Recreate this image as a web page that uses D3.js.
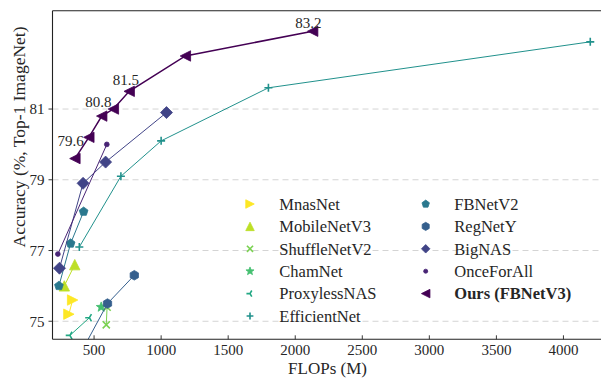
<!DOCTYPE html>
<html><head><meta charset="utf-8">
<script src="https://cdn.jsdelivr.net/npm/d3@7"></script>
<style>body{margin:0;background:#fff}svg{display:block}</style>
</head><body><svg id="c" width="601" height="379" font-family="'Liberation Serif', 'DejaVu Serif', 'Noto Serif', serif"></svg>
<script>
// ---------- data ----------
const seriesNames = ["MnasNet","MobileNetV3","ShuffleNetV2","ChamNet","ProxylessNAS","EfficientNet","FBNetV2","RegNetY","BigNAS","OnceForAll","Ours (FBNetV3)"];
const mnasnetFlops = [312, 340],            mnasnetAcc = [75.2, 75.6];
const mobilenetv3Flops = [278, 356],        mobilenetv3Acc = [76.0, 76.6];
const shufflenetv2Flops = [597, 591],       shufflenetv2Acc = [75.4, 74.9];
const chamnetFlops = [553],                 chamnetAcc = [75.4];
const proxylessFlops = [320, 465],          proxylessAcc = [74.6, 75.1];
const efficientnetFlops = [390, 700, 1000, 1800, 4200], efficientnetAcc = [77.1, 79.1, 80.1, 81.6, 82.9];
const fbnetv2Flops = [238, 325, 422],       fbnetv2Acc = [76.0, 77.2, 78.1];
const regnetyFlops = [400, 600, 800],       regnetyAcc = [74.1, 75.5, 76.3];
const bignasFlops = [242, 418, 586, 1040],  bignasAcc = [76.5, 78.9, 79.5, 80.9];
const ofaFlops = [230, 595],                ofaAcc = [76.9, 80.0];
const oursFlops = [357, 461, 557, 644, 762, 1181, 2130], oursAcc = [79.6, 80.2, 80.8, 81.0, 81.5, 82.5, 83.2];
const xTicks = [500, 1000, 1500, 2000, 2500, 3000, 3500, 4000];
const yTicks = [75, 77, 79, 81];
const annoText = ["79.6", "80.8", "81.5", "83.2"];
const annoFlops = [326, 532, 738, 2098];
const annoAcc = [80.10, 81.22, 81.83, 83.43];

const seriesFlops = [mnasnetFlops, mobilenetv3Flops, shufflenetv2Flops, chamnetFlops, proxylessFlops, efficientnetFlops, fbnetv2Flops, regnetyFlops, bignasFlops, ofaFlops, oursFlops];
const seriesAcc = [mnasnetAcc, mobilenetv3Acc, shufflenetv2Acc, chamnetAcc, proxylessAcc, efficientnetAcc, fbnetv2Acc, regnetyAcc, bignasAcc, ofaAcc, oursAcc];

// ---------- marker shapes ----------
function poly(ctx, pts){ ctx.moveTo(pts[0][0], pts[0][1]); for (let i=1;i<pts.length;i++) ctx.lineTo(pts[i][0], pts[i][1]); ctx.closePath(); }
function regular(n, r, rot){ const p=[]; for(let i=0;i<n;i++){const a=rot+i*2*Math.PI/n; p.push([r*Math.sin(a), -r*Math.cos(a)]);} return p; }
const shapes = {
  triRight: {draw(c,s){const r=Math.sqrt(s); poly(c,[[r,0],[-r,r],[-r,-r]]);}},
  triUp:    {draw(c,s){const r=Math.sqrt(s); poly(c,[[0,-r],[r,r],[-r,r]]);}},
  triLeft:  {draw(c,s){const r=Math.sqrt(s); poly(c,[[-r,0],[r,-r],[r,r]]);}},
  xcross:   {draw(c,s){const r=Math.sqrt(s); c.moveTo(-r,-r);c.lineTo(r,r);c.moveTo(-r,r);c.lineTo(r,-r);}},
  plus:     {draw(c,s){const r=Math.sqrt(s); c.moveTo(-r,0);c.lineTo(r,0);c.moveTo(0,-r);c.lineTo(0,r);}},
  tri3:     {draw(c,s){const r=Math.sqrt(s); c.moveTo(0,0);c.lineTo(-r,0);c.moveTo(0,0);c.lineTo(r*0.5,-r*0.866);c.moveTo(0,0);c.lineTo(r*0.5,r*0.866);}},
  star:     {draw(c,s){const r=Math.sqrt(s); const p=[]; for(let i=0;i<10;i++){const rr=i%2?r*0.42:r; const a=i*Math.PI/5; p.push([rr*Math.sin(a), -rr*Math.cos(a)]);} poly(c,p);}},
  pentagon: {draw(c,s){poly(c, regular(5, Math.sqrt(s), 0));}},
  hexagon:  {draw(c,s){poly(c, regular(6, Math.sqrt(s), 0));}},
  diamond:  {draw(c,s){const r=Math.sqrt(s); poly(c,[[0,-r],[r,0],[0,r],[-r,0]]);}},
  dot:      {draw(c,s){const r=Math.sqrt(s); c.moveTo(r,0); c.arc(0,0,r,0,2*Math.PI);}}
};
const style = [
  {shape:"triRight", r:5.2, fill:true,  lw:1},
  {shape:"triUp",    r:5.2, fill:true,  lw:1},
  {shape:"xcross",   r:3.6, fill:false, lw:1},
  {shape:"star",     r:5.2, fill:true,  lw:1},
  {shape:"tri3",     r:4.2, fill:false, lw:1},
  {shape:"plus",     r:4.0, fill:false, lw:1},
  {shape:"pentagon", r:4.6, fill:true,  lw:1},
  {shape:"hexagon",  r:4.8, fill:true,  lw:1},
  {shape:"diamond",  r:6.0, fill:true,  lw:1},
  {shape:"dot",      r:2.4, fill:true,  lw:1},
  {shape:"triLeft",  r:5.2, fill:true,  lw:1.5}
];
const color = i => d3.interpolateViridis(1 - i/(seriesNames.length-1));
const textCol = "#262626";

// ---------- layout ----------
const svg = d3.select("#c");
const L = 52.5, R = 601, T = 10.7, B = 339.3;
const x = d3.scaleLinear().domain([190, 4280]).range([L, R]);
const y = d3.scaleLinear().domain([74.49, 83.78]).range([B, T]);

svg.append("defs").append("clipPath").attr("id","clip")
  .append("rect").attr("x",L).attr("y",T).attr("width",R-L).attr("height",B-T);

// grid
svg.append("g").selectAll("line").data(yTicks).join("line")
  .attr("x1",L).attr("x2",R).attr("y1",d=>y(d)).attr("y2",d=>y(d))
  .attr("stroke","#d4d4d4").attr("stroke-width",1).attr("stroke-dasharray","6,4");

// series
const plot = svg.append("g").attr("clip-path","url(#clip)");
seriesNames.forEach((name,i)=>{
  const pts = seriesFlops[i].map((f,j)=>[f, seriesAcc[i][j]]);
  const st = style[i], col = color(i);
  if (pts.length>1) plot.append("path").datum(pts)
    .attr("d", d3.line().x(d=>x(d[0])).y(d=>y(d[1])))
    .attr("fill","none").attr("stroke",col).attr("stroke-width",st.lw);
  const sym = d3.symbol().type(shapes[st.shape]).size(st.r*st.r);
  plot.append("g").selectAll("path").data(pts).join("path")
    .attr("transform",d=>`translate(${x(d[0])},${y(d[1])})`)
    .attr("d",sym)
    .attr("fill", st.fill?col:"none").attr("stroke",col)
    .attr("stroke-width", st.fill?0.8:1.6).attr("stroke-linejoin","miter");
});

// annotations
svg.append("g").selectAll("text").data(annoText).join("text")
  .attr("x",(d,i)=>x(annoFlops[i])).attr("y",(d,i)=>y(annoAcc[i]))
  .attr("dy","0.35em").attr("text-anchor","middle").attr("font-size",15).attr("fill",textCol).text(d=>d);

// axes / spines
const ax = svg.append("g").attr("stroke","#222").attr("stroke-width",1.1);
ax.append("line").attr("x1",L).attr("x2",L).attr("y1",T).attr("y2",B);
ax.append("line").attr("x1",L).attr("x2",R).attr("y1",T).attr("y2",T);
ax.append("line").attr("x1",L).attr("x2",R).attr("y1",B).attr("y2",B);

const xa = svg.append("g");
xa.selectAll("line").data(xTicks).join("line")
  .attr("x1",d=>x(d)).attr("x2",d=>x(d)).attr("y1",B).attr("y2",B-4)
  .attr("stroke","#222").attr("stroke-width",0.9);
xa.selectAll("text").data(xTicks).join("text")
  .attr("x",d=>x(d)).attr("y",355).attr("text-anchor","middle").attr("font-size",15).attr("fill",textCol).text(d=>d);

const ya = svg.append("g");
ya.selectAll("line").data(yTicks).join("line")
  .attr("x1",L-4).attr("x2",L).attr("y1",d=>y(d)).attr("y2",d=>y(d))
  .attr("stroke","#222").attr("stroke-width",0.9);
ya.selectAll("text").data(yTicks).join("text")
  .attr("x",44.5).attr("y",d=>y(d)).attr("dy","0.35em").attr("text-anchor","end").attr("font-size",15).attr("fill",textCol).text(d=>d);

svg.append("text").attr("x",327.5).attr("y",373.5).attr("text-anchor","middle").attr("font-size",17).attr("fill",textCol).text("FLOPs (M)");
svg.append("text").attr("transform","translate(25,137) rotate(-90)").attr("text-anchor","middle")
  .attr("font-size",17.5).attr("fill",textCol).text("Accuracy (%, Top-1 ImageNet)");

// legend
const lg = svg.append("g");
seriesNames.forEach((name,i)=>{
  const col = Math.floor(i/6), row = i%6;
  const mx = col ? 425.7 : 250, tx = col ? 454.3 : 279.3, yy = 204 + row*22.4;
  const st = style[i], c = color(i);
  const s = Math.min(st.r, 5) * 0.85;
  lg.append("path").attr("transform",`translate(${mx},${yy})`)
    .attr("d", d3.symbol().type(shapes[st.shape]).size(s*s))
    .attr("fill", st.fill?c:"none").attr("stroke",c).attr("stroke-width", st.fill?0.8:1.6);
  lg.append("text").attr("x",tx).attr("y",yy).attr("dy","0.35em").attr("font-size",16.5).attr("fill",textCol)
    .attr("font-weight", i===seriesNames.length-1 ? "bold" : "normal").text(name);
});
</script></body></html>
